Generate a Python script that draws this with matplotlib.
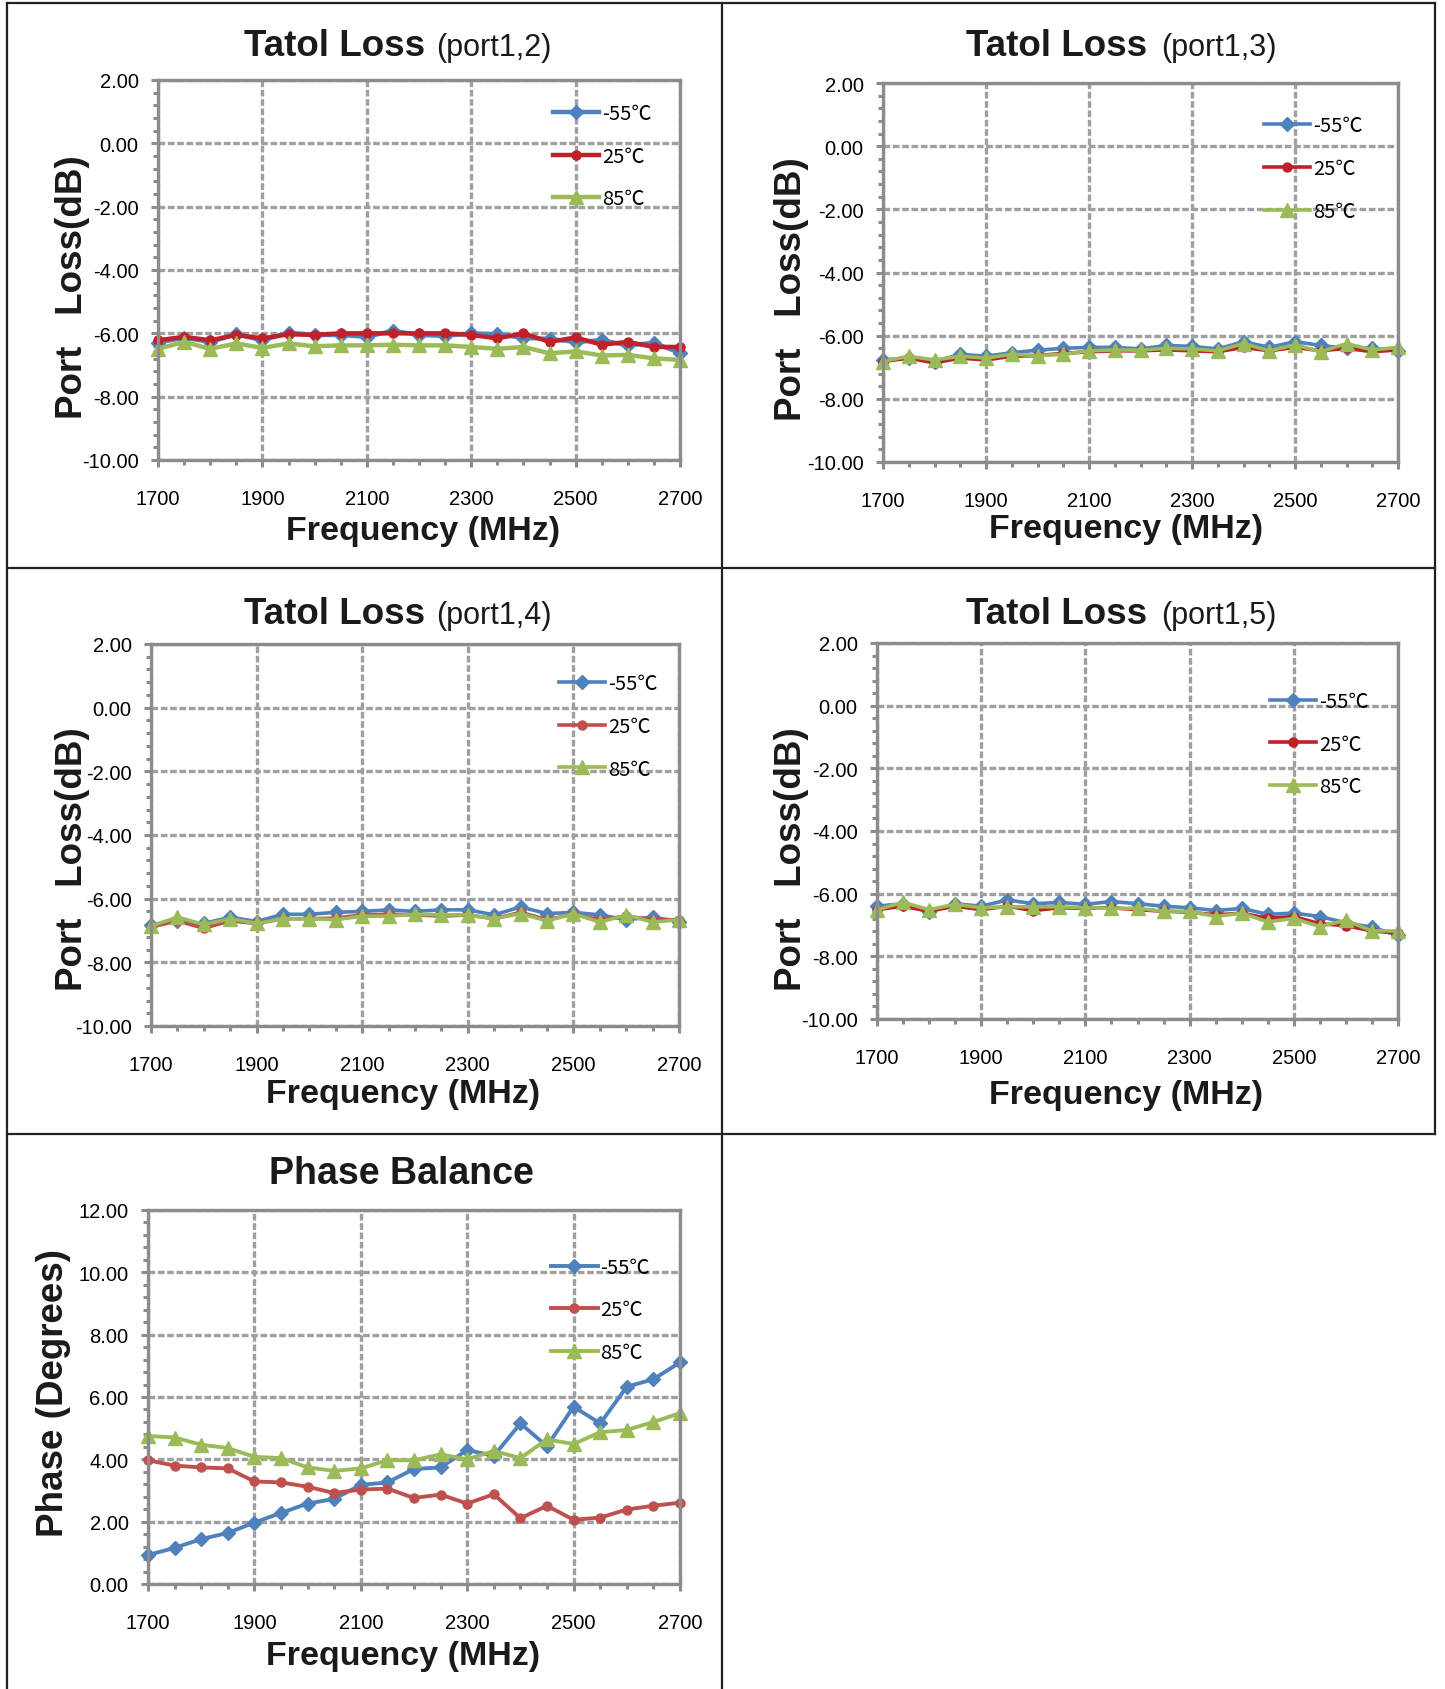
import matplotlib
matplotlib.use("Agg")
import matplotlib.pyplot as plt
from matplotlib.lines import Line2D
from matplotlib.ticker import MultipleLocator, FormatStrFormatter

plt.rcParams['font.family'] = ['Liberation Sans', 'Noto Sans CJK SC', 'DejaVu Sans']

# ---- data ----
freq = [1700, 1750, 1800, 1850, 1900, 1950, 2000, 2050, 2100, 2150, 2200,
        2250, 2300, 2350, 2400, 2450, 2500, 2550, 2600, 2650, 2700]
freq_ticks = [1700, 1900, 2100, 2300, 2500, 2700]
temps = ['-55\u2103', '25\u2103', '85\u2103']

p12_m55 = [-6.29, -6.14, -6.27, -6.03, -6.22, -5.98, -6.05, -6.05, -6.11, -5.92, -6.05,
           -6.08, -6.00, -6.03, -6.14, -6.18, -6.27, -6.22, -6.38, -6.30, -6.62]
p12_25 = [-6.22, -6.11, -6.22, -6.05, -6.16, -6.03, -6.05, -6.00, -6.00, -6.00, -6.00,
          -6.00, -6.05, -6.16, -6.00, -6.27, -6.13, -6.36, -6.27, -6.43, -6.43]
p12_85 = [-6.49, -6.27, -6.49, -6.32, -6.46, -6.32, -6.41, -6.38, -6.38, -6.36, -6.38,
          -6.38, -6.43, -6.49, -6.43, -6.63, -6.57, -6.70, -6.68, -6.79, -6.84]

p13_m55 = [-6.77, -6.71, -6.82, -6.59, -6.65, -6.54, -6.46, -6.40, -6.37, -6.37, -6.42,
           -6.31, -6.34, -6.42, -6.19, -6.37, -6.19, -6.31, -6.40, -6.40, -6.48]
p13_25 = [-6.82, -6.71, -6.86, -6.71, -6.77, -6.65, -6.63, -6.56, -6.51, -6.48, -6.48,
          -6.45, -6.48, -6.51, -6.37, -6.48, -6.37, -6.48, -6.40, -6.51, -6.45]
p13_85 = [-6.82, -6.65, -6.77, -6.65, -6.71, -6.59, -6.63, -6.59, -6.48, -6.45, -6.46,
          -6.40, -6.42, -6.48, -6.25, -6.48, -6.29, -6.51, -6.25, -6.45, -6.37]

p14_m55 = [-6.83, -6.70, -6.78, -6.58, -6.72, -6.49, -6.49, -6.43, -6.40, -6.35, -6.40,
           -6.35, -6.35, -6.51, -6.26, -6.47, -6.43, -6.51, -6.66, -6.58, -6.72]
p14_25 = [-6.89, -6.70, -6.93, -6.70, -6.78, -6.63, -6.63, -6.61, -6.51, -6.49, -6.51,
          -6.55, -6.51, -6.63, -6.43, -6.66, -6.49, -6.66, -6.55, -6.66, -6.66]
p14_85 = [-6.86, -6.58, -6.81, -6.63, -6.78, -6.63, -6.63, -6.66, -6.55, -6.55, -6.49,
          -6.51, -6.51, -6.63, -6.47, -6.70, -6.47, -6.74, -6.51, -6.74, -6.66]

p15_m55 = [-6.40, -6.32, -6.59, -6.32, -6.40, -6.20, -6.32, -6.28, -6.34, -6.25, -6.32,
           -6.40, -6.45, -6.54, -6.47, -6.66, -6.62, -6.73, -6.93, -7.07, -7.33]
p15_25 = [-6.51, -6.40, -6.56, -6.40, -6.51, -6.40, -6.54, -6.45, -6.47, -6.45, -6.51,
          -6.56, -6.59, -6.68, -6.62, -6.79, -6.73, -6.96, -7.02, -7.19, -7.26]
p15_85 = [-6.51, -6.28, -6.51, -6.34, -6.45, -6.42, -6.42, -6.42, -6.45, -6.47, -6.47,
          -6.56, -6.56, -6.73, -6.62, -6.90, -6.79, -7.05, -6.85, -7.19, -7.19]

ph_m55 = [0.93, 1.16, 1.44, 1.64, 1.97, 2.28, 2.58, 2.73, 3.18, 3.26, 3.69,
          3.74, 4.30, 4.11, 5.15, 4.42, 5.69, 5.15, 6.33, 6.57, 7.11]
ph_25 = [3.97, 3.80, 3.74, 3.71, 3.29, 3.26, 3.12, 2.92, 3.03, 3.06, 2.76,
         2.87, 2.58, 2.88, 2.11, 2.51, 2.06, 2.13, 2.39, 2.51, 2.61]
ph_85 = [4.75, 4.70, 4.47, 4.36, 4.08, 4.04, 3.74, 3.63, 3.71, 3.97, 3.97,
         4.16, 4.00, 4.27, 4.04, 4.64, 4.49, 4.87, 4.94, 5.20, 5.48]

W, H = 1445, 1690
fig = plt.figure(figsize=(W / 100, H / 100), dpi=100)
fig.patch.set_facecolor('white')

BLUE = '#4F81BD'
GREEN = '#9BBB59'
GRID = '#A0A0A0'
SPINE = '#8C8C8C'


def add_axes(l, t, r, b):
    return fig.add_axes([l / W, 1 - b / H, (r - l) / W, (b - t) / H])


def draw_panel(ax, series, ylim, red, lw, leg_xy):
    cols = [BLUE, red, GREEN]
    marks = [('D', 7.5), ('o', 6.5), ('^', 10)]
    for vals, lab, col, (mk, ms) in zip(series, temps, cols, marks):
        ax.plot(freq, vals, color=col, lw=lw, marker=mk, ms=ms, mfc=col, mec=col,
                label=lab, clip_on=False)
    ax.set_xlim(1700, 2700)
    ax.set_ylim(*ylim)
    ax.set_xticks(freq_ticks)
    ax.xaxis.set_minor_locator(MultipleLocator(50))
    ax.yaxis.set_major_locator(MultipleLocator(2))
    ax.yaxis.set_minor_locator(MultipleLocator(0.4))
    ax.yaxis.set_major_formatter(FormatStrFormatter('%.2f'))
    ax.grid(True, which='major', color=GRID, ls=(0, (2, 0.8)), lw=2.4)
    ax.set_axisbelow(True)
    for s in ax.spines.values():
        s.set_color(SPINE)
        s.set_linewidth(2.4)
    ax.tick_params(which='both', direction='out', color=SPINE, width=2.2)
    ax.tick_params(which='major', length=5, labelsize=14.5)
    ax.tick_params(which='minor', length=3.5)
    ax.tick_params(axis='x', pad=16)
    ax.tick_params(axis='y', pad=9)
    ax.legend(loc='upper left', bbox_to_anchor=leg_xy, frameon=False,
              prop={'family': ['Noto Sans CJK SC', 'DejaVu Sans'], 'size': 14.5},
              handlelength=2.3, handletextpad=0.15, labelspacing=1.08,
              borderpad=0, borderaxespad=0)


loss_lim = (-10, 2)

ax1 = add_axes(158, 81, 680, 461)
draw_panel(ax1, [p12_m55, p12_25, p12_85], loss_lim, '#C0202A', 3.2, (0.757, 0.940))
ax2 = add_axes(883, 84, 1398, 463)
draw_panel(ax2, [p13_m55, p13_25, p13_85], loss_lim, '#C0202A', 2.6, (0.740, 0.915))
ax3 = add_axes(151, 645, 679, 1027)
draw_panel(ax3, [p14_m55, p14_25, p14_85], loss_lim, '#C0504D', 2.6, (0.773, 0.924))
ax4 = add_axes(877, 644, 1398, 1020)
draw_panel(ax4, [p15_m55, p15_25, p15_85], loss_lim, '#C0202A', 2.6, (0.754, 0.873))
ax5 = add_axes(148, 1211, 680, 1585)
draw_panel(ax5, [ph_m55, ph_25, ph_85], (0, 12), '#C0504D', 2.8, (0.758, 0.875))


def ftext(x, y, s, **kw):
    fig.text(x / W, 1 - y / H, s, **kw)


# titles
for (xr, xl, yb, port) in [(425, 436, 56, '(port1,2)'), (1147, 1161, 56, '(port1,3)'),
                           (425, 436, 624, '(port1,4)'), (1147, 1161, 624, '(port1,5)')]:
    ftext(xr, yb, 'Tatol Loss', ha='right', va='baseline', fontsize=26.5, fontweight='bold',
          color='#1A1A1A')
    ftext(xl, yb, port, ha='left', va='baseline', fontsize=22, color='#1A1A1A')
ftext(401, 1184, 'Phase Balance', ha='center', va='baseline', fontsize=27, fontweight='bold',
      color='#1A1A1A')

# x labels
for (xc, yb) in [(423, 540), (1126, 538), (403, 1103), (1126, 1104), (403, 1665)]:
    ftext(xc, yb, 'Frequency (MHz)', ha='center', va='baseline', fontsize=24.5,
          fontweight='bold', color='#1A1A1A')

# y labels
for (xc, yc) in [(72, 287), (792, 289), (72, 859), (792, 859)]:
    ftext(xc, yc, 'Port   Loss(dB)', ha='center', va='center', rotation=90,
          fontsize=26.5, fontweight='bold', color='#1A1A1A')
ftext(54, 1393, 'Phase (Degrees)', ha='center', va='center', rotation=90,
      fontsize=26.5, fontweight='bold', color='#1A1A1A')

# frame lines
frame = [((7, 4), (1435, 4)), ((7, 4), (7, H)), ((722, 4), (722, H)),
         ((1435, 4), (1435, 1135)), ((7, 569), (1435, 569)), ((7, 1135), (1435, 1135))]
for (x0, y0), (x1, y1) in frame:
    fig.add_artist(Line2D([x0 / W, x1 / W], [1 - y0 / H, 1 - y1 / H],
                          transform=fig.transFigure, color='#222222', lw=1.6))

fig.savefig('out.png', dpi=100)
